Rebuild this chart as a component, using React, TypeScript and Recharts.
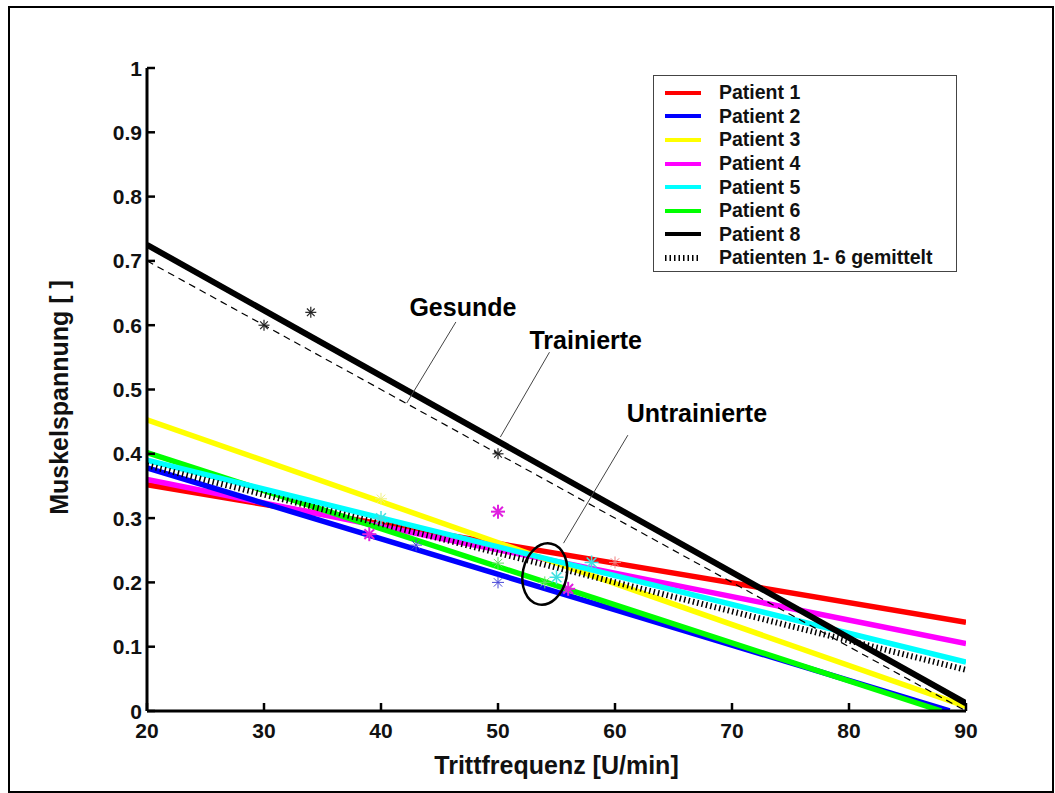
import React from "react";
import {
  ComposedChart,
  Line,
  Scatter,
  XAxis,
  YAxis,
  ReferenceLine,
  ReferenceDot,
} from "recharts";

// regression lines (Trittfrequenz -> Muskelspannung), end points
const patient1 = [{ x: 20, y: 0.352 }, { x: 90, y: 0.138 }];
const patient2 = [{ x: 20, y: 0.378 }, { x: 88.6, y: 0 }];
const patient3 = [{ x: 20, y: 0.453 }, { x: 90, y: 0.007 }];
const patient4 = [{ x: 20, y: 0.36 }, { x: 90, y: 0.105 }];
const patient5 = [{ x: 20, y: 0.39 }, { x: 90, y: 0.076 }];
const patient6 = [{ x: 20, y: 0.402 }, { x: 87.9, y: 0 }];
const patient8 = [{ x: 20, y: 0.725 }, { x: 90, y: 0.012 }];
const meanLine = [{ x: 20, y: 0.382 }, { x: 90, y: 0.064 }];
const healthy = [{ x: 20, y: 0.7 }, { x: 90, y: 0.0 }];

// measured points (asterisks)
const starsBlack = [{ x: 30, y: 0.6 }, { x: 34, y: 0.62 }, { x: 50, y: 0.4 }];
const starsMagenta = [{ x: 39, y: 0.275 }, { x: 50, y: 0.31 }, { x: 56, y: 0.19 }];
const starsBlue = [{ x: 43, y: 0.258 }, { x: 50, y: 0.2 }];
const starsCyan = [{ x: 40, y: 0.3 }, { x: 55, y: 0.208 }, { x: 58, y: 0.231 }];
const starsGreen = [{ x: 50, y: 0.23 }, { x: 54, y: 0.2 }];
const starsRed = [{ x: 60, y: 0.231 }];
const starsYellow = [{ x: 40, y: 0.33 }];

const xTicks = [20, 30, 40, 50, 60, 70, 80, 90];
const yTicks = [0, 0.1, 0.2, 0.3, 0.4, 0.5, 0.6, 0.7, 0.8, 0.9, 1];

const legendItems = [
  { name: "Patient 1", color: "#ff0000" },
  { name: "Patient 2", color: "#0000ff" },
  { name: "Patient 3", color: "#ffff00" },
  { name: "Patient 4", color: "#ff00ff" },
  { name: "Patient 5", color: "#00ffff" },
  { name: "Patient 6", color: "#00ff00" },
  { name: "Patient 8", color: "#000000" },
  { name: "Patienten 1- 6 gemittelt", color: "#000000", dotted: true },
];

const FONT = "'Liberation Sans', Arial, sans-serif";

const fmt = (v: number) => String(Math.round(v * 10) / 10);

const YTick = (props: any) => {
  const { x, y, payload } = props;
  return (
    <g>
      <line x1={x} x2={x + 8} y1={y} y2={y} stroke="#000" strokeWidth={2.5} />
      <text x={x - 5} y={y} dy="0.36em" textAnchor="end" fontSize={21} fontWeight="bold" fill="#111" fontFamily={FONT}>
        {fmt(payload.value)}
      </text>
    </g>
  );
};

const XTick = (props: any) => {
  const { x, y, payload } = props;
  return (
    <g>
      <line x1={x} x2={x} y1={y} y2={y - 8} stroke="#000" strokeWidth={2.5} />
      <text x={x} y={y + 27} textAnchor="middle" fontSize={21} fontWeight="bold" fill="#111" fontFamily={FONT}>
        {fmt(payload.value)}
      </text>
    </g>
  );
};

const star = (color: string, r: number, w = 1) => (props: any) => {
  const { cx, cy } = props;
  const d = r * 0.7;
  return (
    <g stroke={color} strokeWidth={w}>
      <line x1={cx - r} x2={cx + r} y1={cy} y2={cy} />
      <line x1={cx} x2={cx} y1={cy - r} y2={cy + r} />
      <line x1={cx - d} x2={cx + d} y1={cy - d} y2={cy + d} />
      <line x1={cx - d} x2={cx + d} y1={cy + d} y2={cy - d} />
    </g>
  );
};

const note = (text: string) => (props: any) => (
  <text x={props.cx} y={props.cy} dy="0.36em" textAnchor="middle" fontSize={25} fontWeight="bold" fill="#000" fontFamily={FONT}>
    {text}
  </text>
);

const loop = (props: any) => (
  <ellipse cx={props.cx} cy={props.cy} rx={22} ry={31} fill="none" stroke="#000" strokeWidth={2.5} transform={`rotate(12 ${props.cx} ${props.cy})`} />
);

function Legend() {
  return (
    <div
      style={{
        position: "absolute",
        left: 643,
        top: 67,
        width: 304,
        height: 197,
        border: "1px solid #444",
        background: "#fff",
        boxSizing: "border-box",
        paddingTop: 5,
        fontFamily: FONT,
      }}
    >
      {legendItems.map((it) => (
        <div key={it.name} style={{ display: "flex", alignItems: "center", height: 23.6 }}>
          <svg width={60} height={10} style={{ marginLeft: 11 }}>
            <line
              x1={0}
              x2={36}
              y1={5}
              y2={5}
              stroke={it.color}
              strokeWidth={it.dotted ? 6 : 4}
              strokeDasharray={it.dotted ? "1.5 3" : undefined}
            />
          </svg>
          <span style={{ fontSize: 19.5, fontWeight: "bold", color: "#111", marginLeft: -6 }}>{it.name}</span>
        </div>
      ))}
    </div>
  );
}

export default function App() {
  const lw = 5.5;
  return (
    <div
      style={{
        position: "absolute",
        left: 8,
        top: 6,
        width: 1046,
        height: 787,
        border: "2px solid #000",
        boxSizing: "border-box",
        background: "#fff",
      }}
    >
      <ComposedChart
        width={1040}
        height={783}
        margin={{ top: 60, right: 84, bottom: 0, left: 0 }}
        style={{ fontFamily: FONT }}
      >
        <XAxis
          type="number"
          dataKey="x"
          domain={[20, 90]}
          ticks={xTicks}
          allowDataOverflow
          height={80}
          tickSize={0}
          tickMargin={0}
          tick={<XTick />}
          axisLine={{ stroke: "#000", strokeWidth: 3 }}
          label={{
            content: (p: any) => (
              <text
                x={p.viewBox.x + p.viewBox.width / 2}
                y={p.viewBox.y + 63}
                textAnchor="middle"
                fontSize={25}
                fontWeight="bold"
                fill="#111"
                fontFamily={FONT}
              >
                Trittfrequenz [U/min]
              </text>
            ),
          }}
        />
        <YAxis
          type="number"
          dataKey="y"
          domain={[0, 1]}
          ticks={yTicks}
          allowDataOverflow
          width={137}
          tickSize={0}
          tickMargin={0}
          tick={<YTick />}
          axisLine={{ stroke: "#000", strokeWidth: 3 }}
          label={{
            content: (p: any) => {
              const cx = 49;
              const cy = p.viewBox.y + p.viewBox.height / 2 + 8;
              return (
                <text
                  x={cx}
                  y={cy}
                  transform={`rotate(-90 ${cx} ${cy})`}
                  textAnchor="middle"
                  dy="0.36em"
                  fontSize={25}
                  fontWeight="bold"
                  fill="#111"
                  fontFamily={FONT}
                >
                  Muskelspannung [ ]
                </text>
              );
            },
          }}
        />

        <Scatter data={starsRed} shape={star("#f08080", 6)} isAnimationActive={false} legendType="none" />
        <Scatter data={starsYellow} shape={star("#f0f080", 6)} isAnimationActive={false} legendType="none" />
        <Scatter data={starsBlue} shape={star("#4a4ad8", 6)} isAnimationActive={false} legendType="none" />
        <Scatter data={starsGreen} shape={star("#60e060", 6)} isAnimationActive={false} legendType="none" />
        <Scatter data={starsCyan} shape={star("#40e0e0", 7, 1.5)} isAnimationActive={false} legendType="none" />
        <Scatter data={starsMagenta} shape={star("#e020e0", 7, 2)} isAnimationActive={false} legendType="none" />

        <Line data={patient1} dataKey="y" stroke="#ff0000" strokeWidth={lw} dot={false} isAnimationActive={false} />
        <Line data={patient4} dataKey="y" stroke="#ff00ff" strokeWidth={lw} dot={false} isAnimationActive={false} />
        <Line data={patient2} dataKey="y" stroke="#0000ff" strokeWidth={lw} dot={false} isAnimationActive={false} />
        <Line data={patient3} dataKey="y" stroke="#ffff00" strokeWidth={lw} dot={false} isAnimationActive={false} />
        <Line data={patient6} dataKey="y" stroke="#00ff00" strokeWidth={lw} dot={false} isAnimationActive={false} />
        <Line data={patient5} dataKey="y" stroke="#00ffff" strokeWidth={lw} dot={false} isAnimationActive={false} />
        <Line
          data={meanLine}
          dataKey="y"
          stroke="#000"
          strokeWidth={6}
          strokeDasharray="1.5 3"
          dot={false}
          isAnimationActive={false}
        />
        <Line
          data={healthy}
          dataKey="y"
          stroke="#000"
          strokeWidth={1.2}
          strokeDasharray="7 5"
          dot={false}
          isAnimationActive={false}
        />
        <Line data={patient8} dataKey="y" stroke="#000" strokeWidth={6} dot={false} isAnimationActive={false} />

        <Scatter data={starsBlack} shape={star("#222", 5.5, 1.2)} isAnimationActive={false} legendType="none" />

        <ReferenceLine segment={[{ x: 46.4, y: 0.605 }, { x: 42.2, y: 0.479 }]} stroke="#444" strokeWidth={1} />
        <ReferenceLine segment={[{ x: 54.4, y: 0.558 }, { x: 50.2, y: 0.426 }]} stroke="#444" strokeWidth={1} />
        <ReferenceLine segment={[{ x: 61.1, y: 0.429 }, { x: 55.6, y: 0.261 }]} stroke="#444" strokeWidth={1} />
        <ReferenceDot x={54} y={0.213} r={0} shape={loop} />
        <ReferenceDot x={47} y={0.628} r={0} shape={note("Gesunde")} />
        <ReferenceDot x={57.5} y={0.577} r={0} shape={note("Trainierte")} />
        <ReferenceDot x={67} y={0.463} r={0} shape={note("Untrainierte")} />
      </ComposedChart>
      <Legend />
    </div>
  );
}
